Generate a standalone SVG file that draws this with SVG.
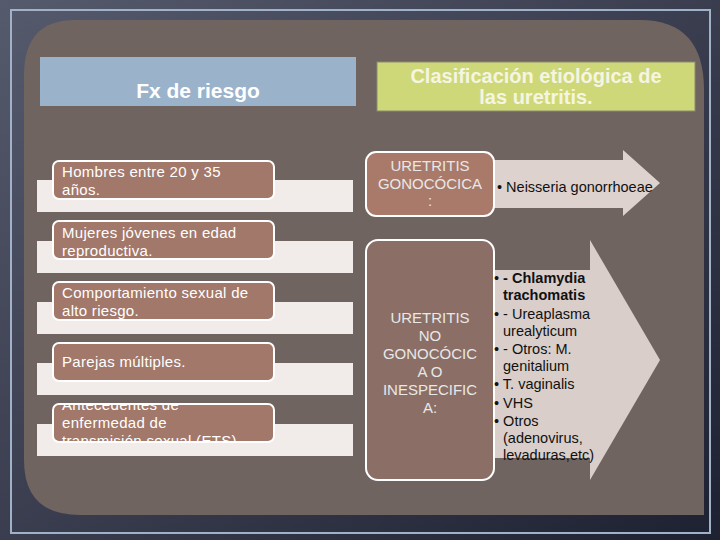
<svg xmlns="http://www.w3.org/2000/svg" width="720" height="540" viewBox="0 0 720 540">
<defs>
<linearGradient id="bg" x1="0" y1="0" x2="1" y2="1"><stop offset="0" stop-color="#555a6c"/><stop offset="1" stop-color="#1e2132"/></linearGradient>
</defs>
<style>
text{font-family:"Liberation Sans",Arial,sans-serif;fill:#fff}
.bar{fill:#f1ecea}
.pk{fill:#a2786a;stroke:#fff;stroke-width:2}
.li{font-size:15px;letter-spacing:0.3px}
.rt{font-size:15px;fill:#e8e8e8}
.dk{font-size:14.5px;fill:#111}
</style>
<rect width="720" height="540" fill="url(#bg)"/>
<rect x="11" y="10" width="699" height="523" fill="none" stroke="#9fb2c8" stroke-width="2"/>
<path d="M75 20 H640 Q704 20 704 90 V515 H80 Q24 515 24 460 V75 Q24 20 75 20 Z" fill="#6f6460"/>
<g id="hdr-left"><rect x="40" y="57" width="316" height="49" fill="#9ab3cb"/><text x="198" y="98" font-size="21" font-weight="bold" text-anchor="middle">Fx de riesgo</text></g>
<g id="hdr-right"><rect x="377" y="62" width="318" height="49" fill="#cfd878" stroke="#8a8a70"/><text x="536" y="83" font-size="20" font-weight="bold" text-anchor="middle" style="fill:#f5f5e3">Clasificación etiológica de</text><text x="536" y="104" font-size="20" font-weight="bold" text-anchor="middle" style="fill:#f5f5e3">las uretritis.</text></g>
<g id="l1"><rect class="bar" x="37" y="180" width="316" height="32"/><rect class="pk" x="53" y="161" width="221" height="38" rx="6"/><text class="li" x="62" y="177">Hombres entre 20 y 35</text><text class="li" x="62" y="195">años.</text></g>
<g id="l2"><rect class="bar" x="37" y="241" width="316" height="32"/><rect class="pk" x="53" y="221" width="221" height="38" rx="6"/><text class="li" x="62" y="238">Mujeres jóvenes en edad</text><text class="li" x="62" y="256">reproductiva.</text></g>
<g id="l3"><rect class="bar" x="37" y="302" width="316" height="32"/><rect class="pk" x="53" y="282" width="221" height="38" rx="6"/><text class="li" x="62" y="298">Comportamiento sexual de</text><text class="li" x="62" y="316">alto riesgo.</text></g>
<g id="l4"><rect class="bar" x="37" y="363" width="316" height="32"/><rect class="pk" x="53" y="343" width="221" height="38" rx="6"/><text class="li" x="62" y="367">Parejas múltiples.</text></g>
<g id="l5"><rect class="bar" x="37" y="424" width="316" height="32"/><rect class="pk" x="53" y="404" width="221" height="38" rx="6"/>
<clipPath id="c5"><rect x="53" y="404" width="221" height="38"/></clipPath>
<g clip-path="url(#c5)"><text class="li" x="62" y="410">Antecedentes de</text><text class="li" x="62" y="428">enfermedad de</text><text class="li" x="62" y="446">transmisión sexual (ETS)</text></g></g>
<g id="connectors">
<path d="M494 160 H623 V150 L660 183 L623 216 V208 H494 Z" fill="#ddd2ce"/>
<path d="M494 270 H590 V240 L660 360 L590 480 V458 H494 Z" fill="#d9ceca"/>
</g>
<g id="gono"><rect x="366" y="152" width="128" height="64" rx="10" fill="#a97a6a" stroke="#fff" stroke-width="2"/><text class="rt" x="430" y="171" text-anchor="middle">URETRITIS</text><text class="rt" x="430" y="189" text-anchor="middle">GONOCÓCICA</text><text class="rt" x="430" y="206" text-anchor="middle">:</text>
<text class="dk" x="497" y="192">•  Neisseria gonorrhoeae</text></g>
<g id="nogono"><rect x="366" y="240" width="128" height="240" rx="12" fill="#8b6f66" stroke="#fff" stroke-width="2"/>
<g class="rt" text-anchor="middle"><text class="rt" x="430" y="323">URETRITIS</text><text class="rt" x="430" y="341">NO</text><text class="rt" x="430" y="359">GONOCÓCIC</text><text class="rt" x="430" y="377">A O</text><text class="rt" x="430" y="395">INESPECIFIC</text><text class="rt" x="430" y="413">A:</text></g>
<text class="dk" x="494" y="283">• <tspan font-weight="bold">- Chlamydia</tspan></text><text class="dk" x="503" y="300" font-weight="bold">trachomatis</text>
<text class="dk" x="494" y="319">• - Ureaplasma</text><text class="dk" x="503" y="336">urealyticum</text>
<text class="dk" x="494" y="354">• - Otros: M.</text><text class="dk" x="503" y="371">genitalium</text>
<text class="dk" x="494" y="389">• T. vaginalis</text>
<text class="dk" x="494" y="408">• VHS</text>
<text class="dk" x="494" y="426">• Otros</text><text class="dk" x="503" y="443">(adenovirus,</text><text class="dk" x="503" y="460">levaduras,etc)</text></g>
</svg>
